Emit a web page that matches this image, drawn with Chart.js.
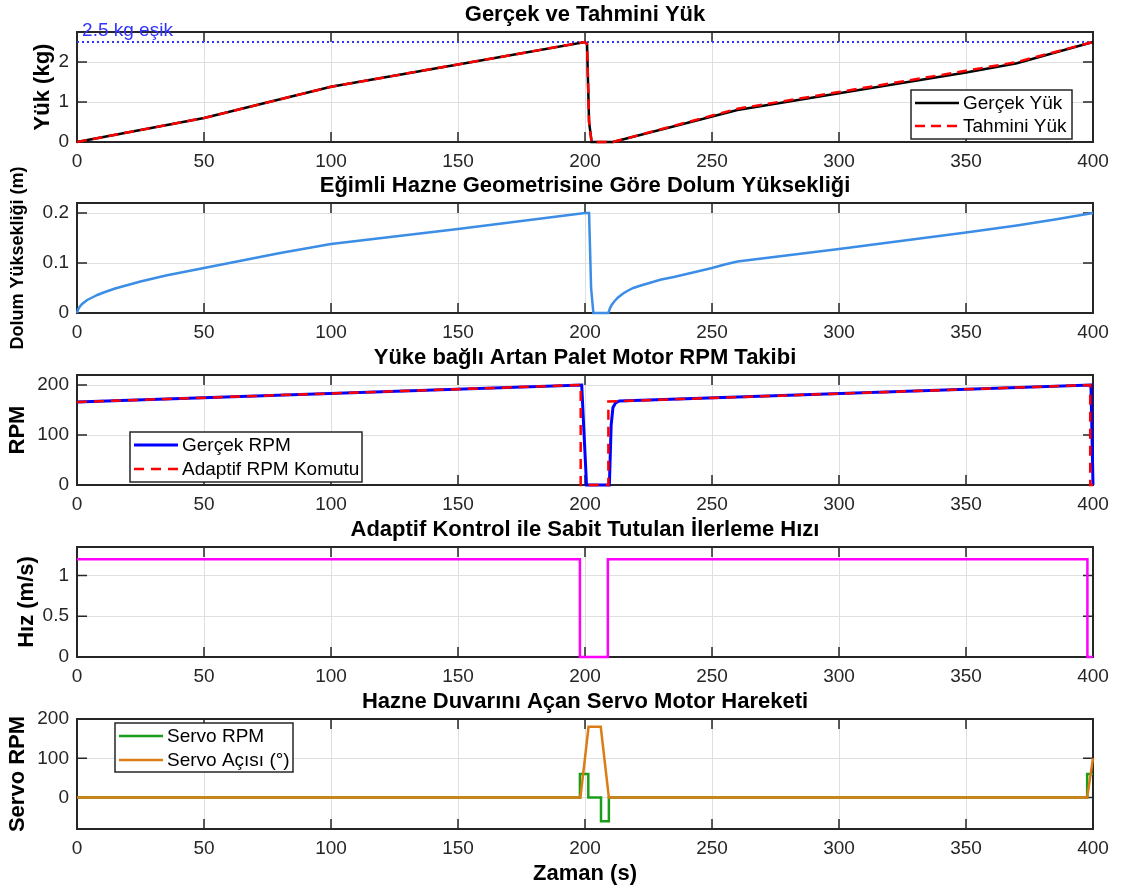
<!DOCTYPE html>
<html lang="tr">
<head>
<meta charset="utf-8">
<title>Hazne Dolum ve Palet Kontrolü</title>
<script src="https://cdn.jsdelivr.net/npm/chart.js@4.4.1/dist/chart.umd.min.js"></script>
<style>
  html, body { margin: 0; padding: 0; background: #fff; }
  #sekil { position: relative; width: 1123px; height: 891px; overflow: hidden; }
  #sekil canvas { position: absolute; left: 0; top: 0; }
</style>
</head>
<body>
<div id="sekil">
  <canvas id="yuk" width="1123" height="891"></canvas>
  <canvas id="dolum" width="1123" height="891"></canvas>
  <canvas id="rpm" width="1123" height="891"></canvas>
  <canvas id="hiz" width="1123" height="891"></canvas>
  <canvas id="servo" width="1123" height="891"></canvas>
</div>
<script>
// --- veriler ---
const zamanTicks = [0, 50, 100, 150, 200, 250, 300, 350, 400];

const yukZaman   = [0, 50, 100, 150, 200, 200.8, 201.6, 202.6, 211, 260, 300, 350, 370, 400];
const gercekYuk  = [0, 0.6, 1.38, 1.94, 2.5, 2.45, 0.5, 0, 0, 0.8, 1.22, 1.74, 1.97, 2.5];
const tahminiYuk = [0, 0.6, 1.38, 1.94, 2.5, 2.45, 0.5, 0, 0, 0.83, 1.25, 1.78, 2.0, 2.5];
const esikZaman  = [0, 400];
const esikYuk    = [2.5, 2.5];
const yukTicks   = [0, 1, 2];

const dolumZaman = [0, 0.5, 1, 2, 3, 4, 6, 8, 11, 15, 20, 25, 30, 35, 42, 50, 60, 70, 80, 90, 100,
  125, 150, 175, 200, 201.6, 202.4, 203.3, 209.2, 209.8, 210.5, 211.5, 213, 215, 217, 219, 222, 226, 230,
  235, 240, 245, 250, 255, 260, 300, 350, 370, 385, 400];
const dolumH = [0, 0.008, 0.012, 0.018, 0.022, 0.026, 0.031, 0.036, 0.042, 0.049, 0.056, 0.063, 0.069,
  0.075, 0.082, 0.09, 0.1, 0.11, 0.12, 0.129, 0.138, 0.153, 0.168, 0.184, 0.2, 0.2, 0.05, 0, 0, 0.009,
  0.016, 0.023, 0.031, 0.039, 0.045, 0.05, 0.055, 0.061, 0.067, 0.072, 0.078, 0.084, 0.09, 0.097, 0.103,
  0.128, 0.161, 0.175, 0.187, 0.2];
const dolumTicks = [0, 0.1, 0.2];

const rpmZaman  = [0, 198.7, 200.6, 209.6, 210.3, 211, 212, 213.5, 399.2, 400];
const gercekRpm = [166, 200, 0, 0, 120, 155, 164, 168, 200, 0];
const komutZaman = [0, 198.3, 198.3, 209.2, 209.2, 398.9, 398.9, 400];
const komutRpm   = [166, 200, 0, 0, 167, 200, 0, 0];
const rpmTicks   = [0, 100, 200];

const hizZaman = [0, 198, 198, 209, 209, 397.8, 397.8, 400];
const hiz      = [1.2, 1.2, 0, 0, 1.2, 1.2, 0, 0];
const hizTicks = [0, 0.5, 1];

const servoZaman = [0, 198, 198, 201.3, 201.3, 206.3, 206.3, 209.4, 209.4, 397.7, 397.7, 400];
const servoRpm   = [0, 0, 60, 60, 0, 0, -60, -60, 0, 0, 60, 60];
const aciZaman   = [0, 198.2, 201.4, 206.2, 209.4, 397.7, 400];
const servoAci   = [0, 0, 180, 180, 0, 0, 100];
const servoTicks = [0, 100, 200];

// --- ortak ayarlar ---
Chart.defaults.font.family = "'Liberation Sans', Arial, sans-serif";
Chart.defaults.color = '#262626';
Chart.defaults.animation = false;

function noktalar(xs, ys) {
  return xs.map((x, i) => ({ x: x, y: ys[i] }));
}

function seri(label, xs, ys, renk, kalinlik, kesik, sira) {
  return {
    label: label,
    data: noktalar(xs, ys),
    borderColor: renk,
    backgroundColor: renk,
    borderWidth: kalinlik,
    borderDash: kesik || [],
    pointRadius: 0,
    tension: 0,
    clip: 6,
    order: sira || 0
  };
}

// MATLAB tarzi kutu ve iceri bakan tikler
const eksenKutusu = {
  id: 'eksenKutusu',
  beforeDatasetsDraw(chart) {
    const { ctx, chartArea: a, scales: { x, y } } = chart;
    ctx.save();
    ctx.strokeStyle = '#262626';
    ctx.lineWidth = 1.5;
    ctx.beginPath();
    x.ticks.forEach(t => {
      const px = x.getPixelForValue(t.value);
      ctx.moveTo(px, a.bottom); ctx.lineTo(px, a.bottom - 10);
      ctx.moveTo(px, a.top); ctx.lineTo(px, a.top + 10);
    });
    y.ticks.forEach(t => {
      const py = y.getPixelForValue(t.value);
      ctx.moveTo(a.left, py); ctx.lineTo(a.left + 10, py);
      ctx.moveTo(a.right, py); ctx.lineTo(a.right - 10, py);
    });
    ctx.stroke();
    ctx.lineWidth = 2;
    ctx.strokeRect(a.left, a.top, a.right - a.left, a.bottom - a.top);
    ctx.restore();
  }
};

// eksen icindeki kutulu lejant
const kutuLejant = {
  id: 'kutuLejant',
  afterDatasetsDraw(chart, args, opts) {
    if (!opts || !opts.items) return;
    const ctx = chart.ctx;
    ctx.save();
    ctx.fillStyle = '#fff';
    ctx.fillRect(opts.x, opts.y, opts.w, opts.h);
    ctx.strokeStyle = '#262626';
    ctx.lineWidth = 1.5;
    ctx.strokeRect(opts.x, opts.y, opts.w, opts.h);
    ctx.font = "19px 'Liberation Sans', Arial, sans-serif";
    ctx.textBaseline = 'middle';
    opts.items.forEach((idx, i) => {
      const ds = chart.data.datasets[idx];
      const yy = opts.y + opts.ilk + i * opts.satir;
      ctx.strokeStyle = ds.borderColor;
      ctx.lineWidth = ds.borderWidth;
      ctx.setLineDash(ds.borderDash || []);
      ctx.beginPath();
      ctx.moveTo(opts.x + 4, yy);
      ctx.lineTo(opts.x + 48, yy);
      ctx.stroke();
      ctx.setLineDash([]);
      ctx.fillStyle = '#000';
      ctx.fillText(ds.label, opts.x + 52, yy + 1);
    });
    ctx.restore();
  }
};

// esik cizgisi yazisi
const esikYazi = {
  id: 'esikYazi',
  afterDatasetsDraw(chart, args, opts) {
    if (!opts || !opts.text) return;
    const { ctx, scales: { x, y } } = chart;
    ctx.save();
    ctx.font = "19px 'Liberation Sans', Arial, sans-serif";
    ctx.fillStyle = opts.color;
    ctx.textBaseline = 'alphabetic';
    ctx.fillText(opts.text, x.getPixelForValue(opts.x), y.getPixelForValue(opts.y) - 6);
    ctx.restore();
  }
};

function altGrafik(id, ust, baslik, yBaslik, yBaslikBosluk, yMin, yMax, yTicks, datasets, ekler, sonMu) {
  const xh = sonMu ? 62 : 30;
  const plotH = 110;
  return new Chart(document.getElementById(id), {
    type: 'line',
    data: { datasets: datasets },
    plugins: [eksenKutusu, kutuLejant, esikYazi],
    options: {
      responsive: false,
      animation: false,
      events: [],
      layout: { padding: { top: ust - 30.4, right: 30, left: 0, bottom: 891 - ust - plotH - xh } },
      plugins: {
        legend: { display: false },
        tooltip: { enabled: false },
        title: {
          display: true, text: baslik, fullSize: false, color: '#000',
          font: { size: 22, weight: 'bold' }, padding: { top: 0, bottom: 4 }
        },
        kutuLejant: ekler.lejant || {},
        esikYazi: ekler.esik || {}
      },
      scales: {
        x: {
          type: 'linear', min: 0, max: 400,
          afterBuildTicks: s => { s.ticks = zamanTicks.map(v => ({ value: v })); },
          afterFit: s => { s.height = xh; },
          grid: { color: '#dfdfdf', drawTicks: false },
          border: { display: false },
          ticks: { padding: 8, font: { size: 19 }, color: '#262626', maxRotation: 0, autoSkip: false,
            callback: v => String(v) },
          title: {
            display: !!sonMu, text: 'Zaman (s)', color: '#000',
            font: { size: 22, weight: 'bold' }, padding: { top: 0, bottom: 4 }
          }
        },
        y: {
          type: 'linear', min: yMin, max: yMax,
          afterBuildTicks: s => { s.ticks = yTicks.map(v => ({ value: v })); },
          afterFit: s => { s.width = 77; },
          grid: { color: '#dfdfdf', drawTicks: false },
          border: { display: false },
          ticks: { padding: 8, font: { size: 19 }, color: '#262626', autoSkip: false,
            callback: v => String(v) },
          title: {
            display: true, text: yBaslik, color: '#000',
            font: { size: ekler.yBoyut || 22, weight: 'bold' }, padding: { top: yBaslikBosluk }
          }
        }
      }
    }
  });
}

altGrafik('yuk', 32, 'Gerçek ve Tahmini Yük', 'Yük (kg)', 30, 0, 2.75, yukTicks, [
  seri('Gerçek Yük', yukZaman, gercekYuk, '#000000', 2.5, [], 1),
  seri('Tahmini Yük', yukZaman, tahminiYuk, '#ff0000', 2.5, [10, 6], 0),
  seri('2.5 kg eşik', esikZaman, esikYuk, '#3333ff', 2, [2, 3], 2)
], {
  lejant: { x: 911, y: 90, w: 161, h: 49, ilk: 13, satir: 23, items: [0, 1] },
  esik: { text: '2.5 kg eşik', x: 2, y: 2.5, color: '#3333ff' }
});

altGrafik('dolum', 203, 'Eğimli Hazne Geometrisine Göre Dolum Yüksekliği', 'Dolum Yüksekliği (m)', 7, 0, 0.22, dolumTicks, [
  seri('Dolum Yüksekliği', dolumZaman, dolumH, '#3b8de6', 2.5, [], 0)
], { yBoyut: 18 });

altGrafik('rpm', 375, 'Yüke bağlı Artan Palet Motor RPM Takibi', 'RPM', 5, 0, 220, rpmTicks, [
  seri('Gerçek RPM', rpmZaman, gercekRpm, '#0000ff', 3, [], 1),
  seri('Adaptif RPM Komutu', komutZaman, komutRpm, '#ff0000', 2.5, [10, 7], 0)
], {
  lejant: { x: 130, y: 432, w: 232, h: 50, ilk: 13, satir: 24, items: [0, 1] }
});

altGrafik('hiz', 547, 'Adaptif Kontrol ile Sabit Tutulan İlerleme Hızı', 'Hız (m/s)', 14, 0, 1.35, hizTicks, [
  seri('İlerleme Hızı', hizZaman, hiz, '#ff00ff', 2.5, [], 0)
], {});

altGrafik('servo', 719, 'Hazne Duvarını Açan Servo Motor Hareketi', 'Servo RPM', 5, -80, 200, servoTicks, [
  seri('Servo RPM', servoZaman, servoRpm, '#1a9e1a', 2.5, [], 1),
  seri('Servo Açısı (°)', aciZaman, servoAci, '#db7d14', 2.5, [], 0)
], {
  lejant: { x: 115, y: 723, w: 178, h: 49, ilk: 13, satir: 24, items: [0, 1] }
}, true);
</script>
</body>
</html>
